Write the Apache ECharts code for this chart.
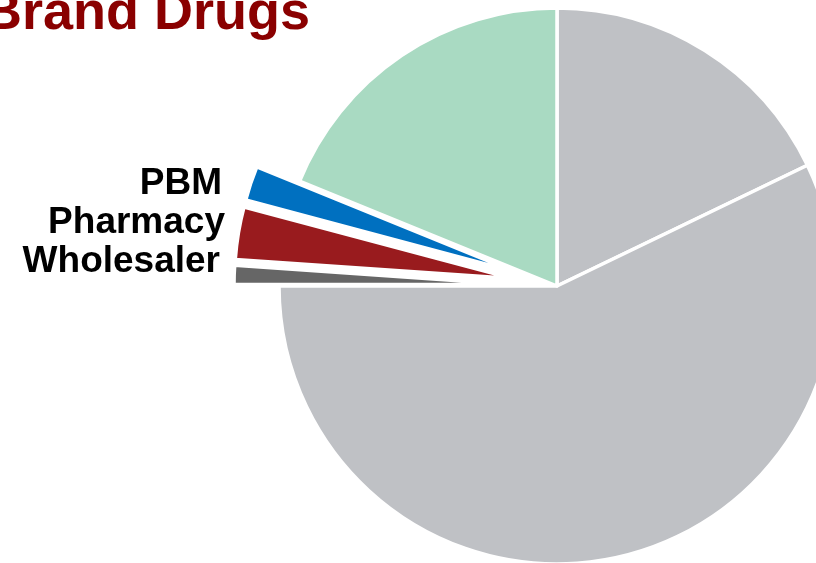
<!DOCTYPE html>
<html>
<head>
<meta charset="utf-8">
<script src="https://cdn.jsdelivr.net/npm/echarts@6/dist/echarts.min.js"></script>
<style>
html,body{margin:0;padding:0;background:#fff;}
#chart{width:816px;height:563px;}
</style>
</head>
<body>
<div id="chart"></div>
<script>
// Data (share of spending on brand drugs, %)
const titleText = 'Brand Drugs';
const categories = ['Manufacturer (net)', 'Manufacturer', 'Wholesaler', 'Pharmacy', 'PBM', 'Insurer'];
const values = [17.85, 57.15, 1.1, 3.05, 2.0, 18.85];
const labeled = ['PBM', 'Pharmacy', 'Wholesaler'];
const colors = ['#BFC1C5', '#BFC1C5', '#666666', '#991B1E', '#0070C0', '#A9DAC2'];

// label anchor (right edge, vertical middle) in px
const labelPos = {
  'PBM': [222, 184],
  'Pharmacy': [225, 223],
  'Wholesaler': [220, 262]
};

const FONT = 'Arial, "Liberation Sans", sans-serif';
const chart = echarts.init(document.getElementById('chart'), null, {renderer: 'canvas'});
const data = categories.map((c, i) => ({
  name: c,
  value: values[i],
  selected: labeled.indexOf(c) >= 0,
  itemStyle: {color: colors[i]}
}));

const labelGraphics = labeled.map(name => ({
  type: 'text',
  x: labelPos[name][0],
  y: labelPos[name][1],
  style: {
    text: name,
    fill: '#000',
    font: 'bold 37px ' + FONT,
    align: 'right',
    verticalAlign: 'middle'
  },
  silent: true
}));

chart.setOption({
  animation: false,
  title: {
    text: titleText,
    left: -22,
    top: -18,
    textStyle: {
      color: '#8A0000',
      fontFamily: FONT,
      fontWeight: 'bold',
      fontSize: 54
    }
  },
  graphic: labelGraphics,
  series: [{
    type: 'pie',
    center: [557, 286],
    radius: 278,
    startAngle: 90,
    clockwise: true,
    selectedMode: 'multiple',
    selectedOffset: 45,
    avoidLabelOverlap: false,
    itemStyle: {borderColor: '#ffffff', borderWidth: 3.5},
    label: {show: false},
    labelLine: {show: false},
    emphasis: {disabled: true},
    data: data
  }]
});
</script>
</body>
</html>
